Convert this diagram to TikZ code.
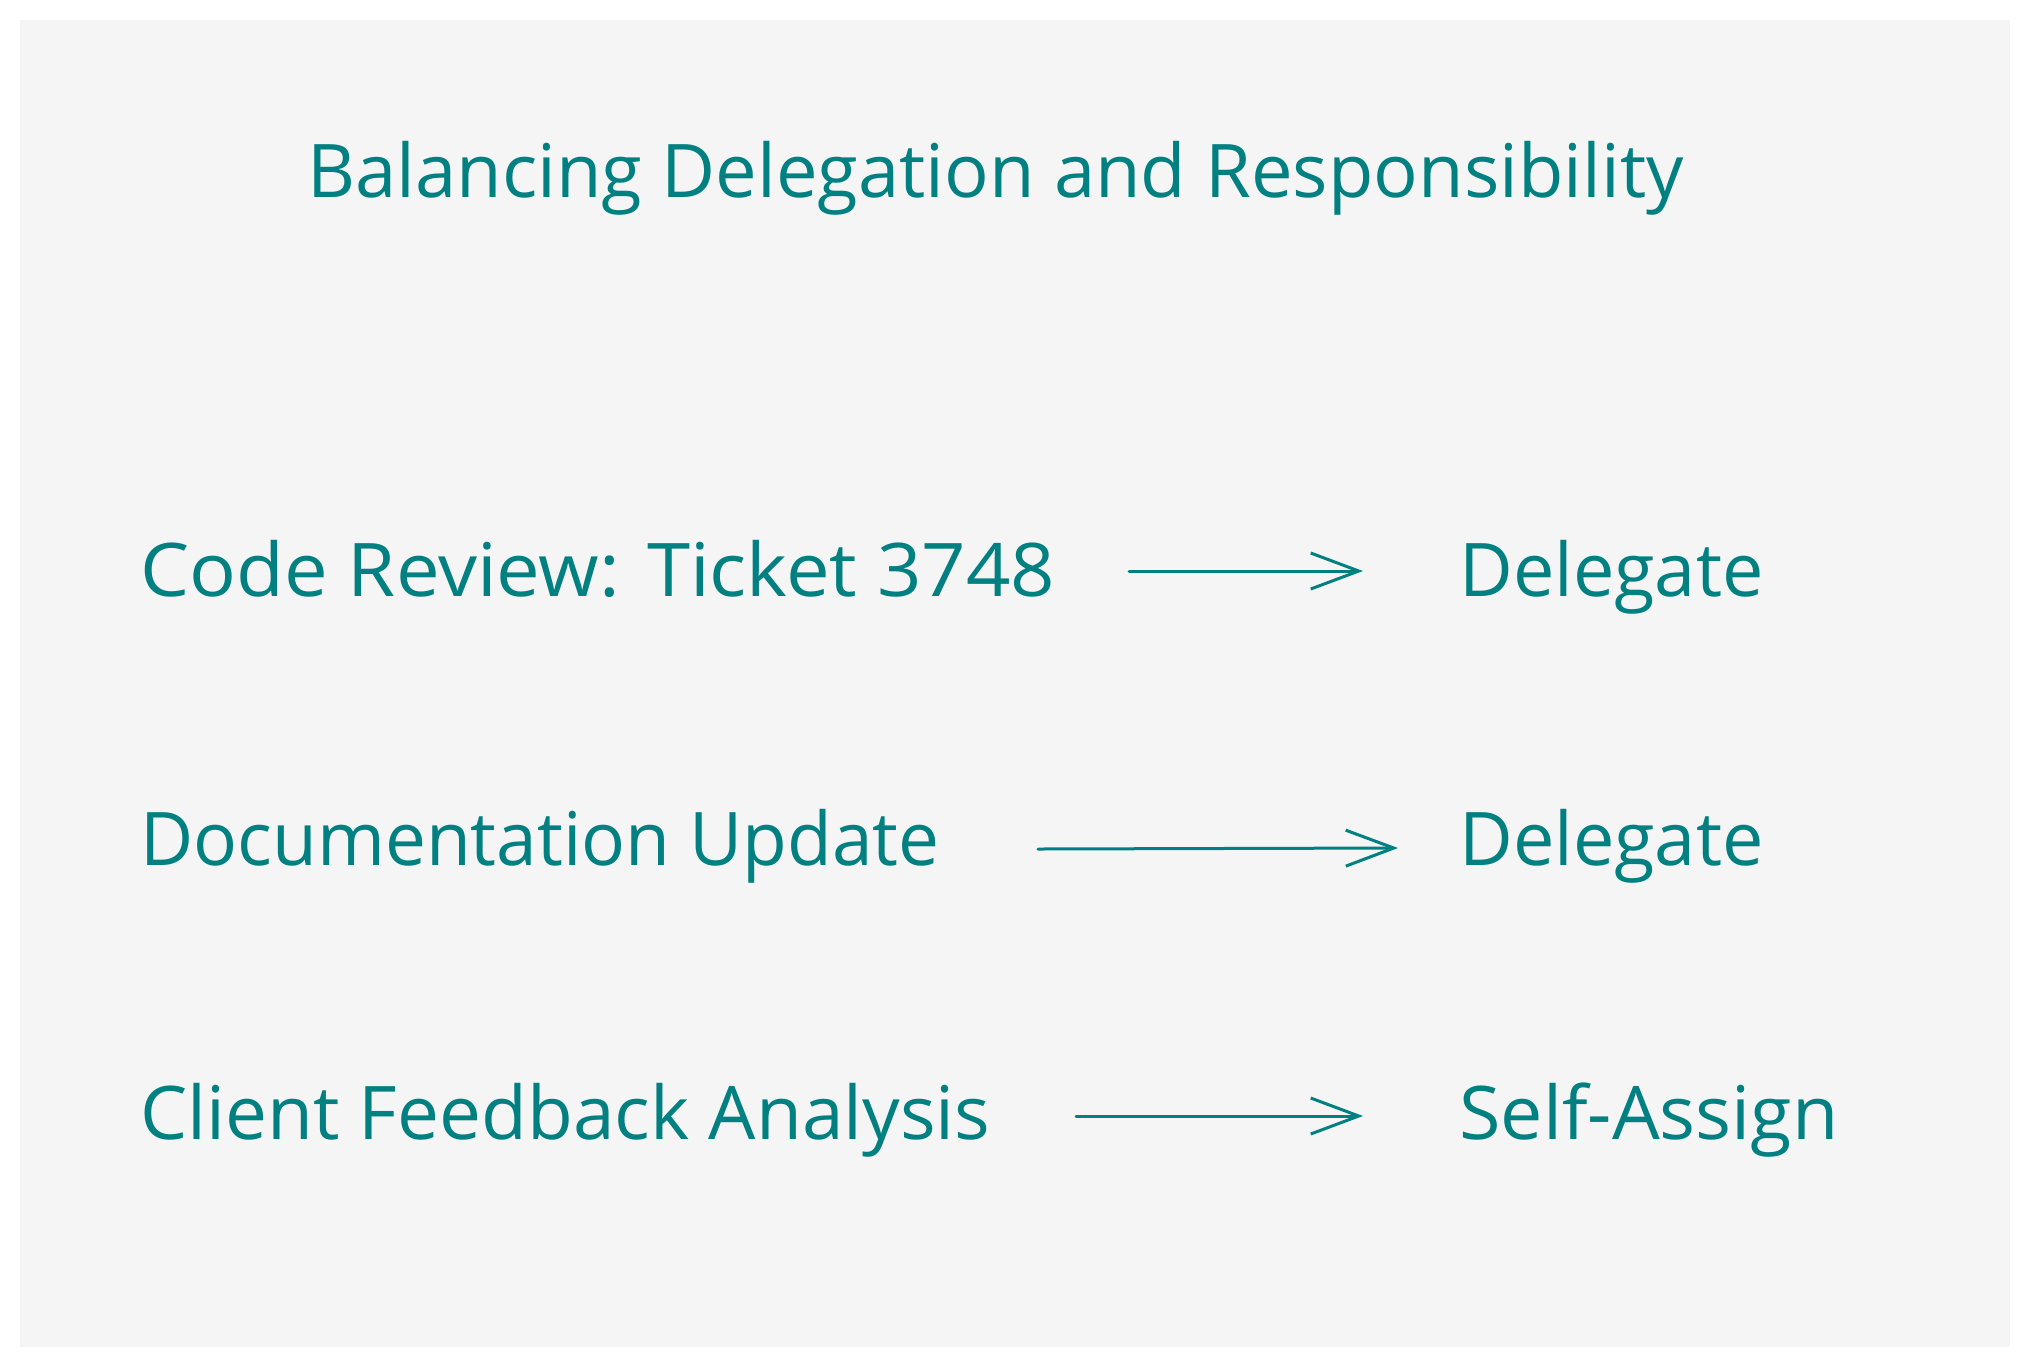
\documentclass[tikz,border=0pt]{standalone}
\usepackage{fontspec}
\setmainfont{Open Sans}
\usetikzlibrary{arrows.meta}
\definecolor{ink}{HTML}{008080}
\definecolor{paper}{HTML}{F5F5F5}
\newcommand{\fitw}[2]{\resizebox{#1}{\height}{#2}}
\tikzset{
  lbl/.style={anchor=base west, inner sep=0pt, text=ink, font=\fontsize{37}{44}\selectfont},
  conn/.style={draw=ink, line width=1.5pt, line cap=round, -{Straight Barb[length=24pt, width=18pt, line width=1.5pt]}}
}
\begin{document}
\begin{tikzpicture}[x=0.5pt, y=-0.5pt]
\useasboundingbox (0,0) rectangle (2030,1367);
\fill[white] (0,0) rectangle (2030,1367);
\fill[paper] (20,20) rectangle (2010,1347);
% title
\node[lbl] (title) at (307,197) {\fitw{688pt}{Balancing Delegation and Responsibility}};
% rows
\node[lbl] (t1) at (140,596) {\fitw{457.5pt}{Code Review: Ticket 3748}};
\node[lbl] (d1) at (1459,596) {\fitw{152pt}{Delegate}};
\node[lbl] (t2) at (140,865) {\fitw{399.5pt}{Documentation Update}};
\node[lbl] (d2) at (1459,865) {\fitw{152pt}{Delegate}};
\node[lbl] (t3) at (140,1139) {\fitw{425pt}{Client Feedback Analysis}};
\node[lbl] (d3) at (1459,1139) {\fitw{189.5pt}{Self-Assign}};
% arrow ends
\coordinate (a1s) at (1129,571);
\coordinate (a1e) at (1363,571);
\coordinate (a2s) at (1038,849);
\coordinate (a2e) at (1398,848);
\coordinate (a3s) at (1076,1116);
\coordinate (a3e) at (1363,1116);
\draw[conn] (a1s) -- (a1e);
\draw[conn] (a2s) -- (a2e);
\draw[conn] (a3s) -- (a3e);
\end{tikzpicture}
\end{document}
